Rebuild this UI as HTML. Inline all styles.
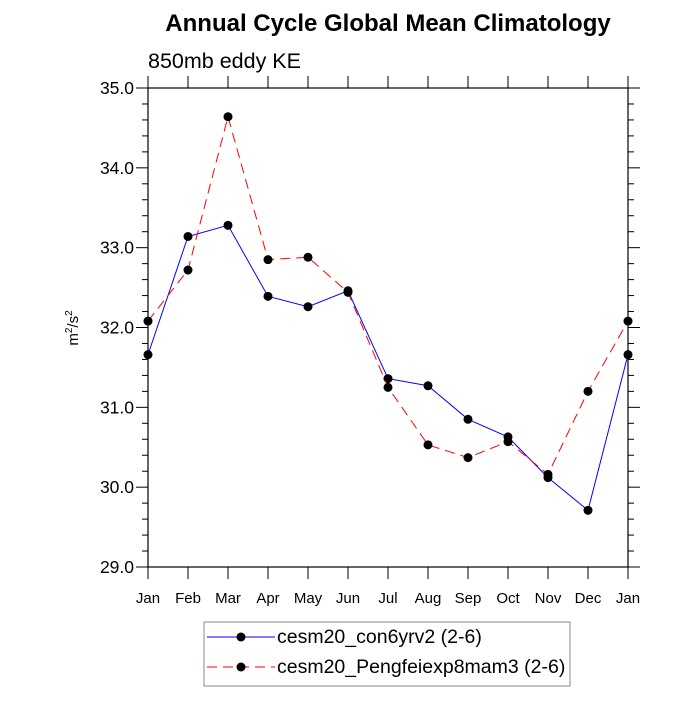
<!DOCTYPE html>
<html><head><meta charset="utf-8"><style>
body{margin:0;background:#fff;font-family:"Liberation Sans",sans-serif}
</style></head><body>
<svg id="chart" width="700" height="700" xmlns="http://www.w3.org/2000/svg" font-family="Liberation Sans, sans-serif">
<text x="388" y="31" font-size="24" font-weight="bold" text-anchor="middle">Annual Cycle Global Mean Climatology</text>
<text x="148" y="68" font-size="21.5">850mb eddy KE</text>
<g id="axes"></g>
<g id="series"></g>
<g transform="translate(78,328) rotate(-90)"><text font-size="15" text-anchor="middle">m<tspan dy="-6" font-size="10">2</tspan><tspan dy="6">/s</tspan><tspan dy="-6" font-size="10">2</tspan></text></g>
<g>
<rect x="204" y="622" width="366" height="64" fill="#fff" stroke="#888" stroke-width="1"/>
<g>
<line x1="207" y1="637" x2="275" y2="637" stroke="#00f" stroke-width="1"/>
<circle cx="241" cy="637" r="4.5" fill="#000"/>
<text x="277" y="643" font-size="19.5">cesm20_con6yrv2 (2-6)</text></g>
<g>
<line x1="207" y1="667" x2="275" y2="667" stroke="#f00" stroke-width="1" stroke-dasharray="10,6"/>
<circle cx="241" cy="667" r="4.5" fill="#000"/>
<text x="277" y="673" font-size="19.5">cesm20_Pengfeiexp8mam3 (2-6)</text></g>
</g>
</svg>
<script>
const months=["Jan","Feb","Mar","Apr","May","Jun","Jul","Aug","Sep","Oct","Nov","Dec","Jan"];
const blueVals=[31.66,33.14,33.28,32.39,32.26,32.46,31.36,31.27,30.85,30.63,30.12,29.71,31.66];
const redVals=[32.08,32.72,34.64,32.85,32.88,32.44,31.25,30.53,30.37,30.57,30.16,31.20,32.08];
const yTicks=[29.0,30.0,31.0,32.0,33.0,34.0,35.0];
const X0=148,X1=628,Y0=567,Y1=88,YMIN=29,YMAX=35;
const ns="http://www.w3.org/2000/svg";
function xs(i){return X0+(X1-X0)*i/(months.length-1);}
function ys(v){return Y0-(v-YMIN)/(YMAX-YMIN)*(Y0-Y1);}
const ax=document.getElementById('axes'),se=document.getElementById('series');
function mk(t,a,p){const e=document.createElementNS(ns,t);for(const k in a)e.setAttribute(k,a[k]);p.appendChild(e);return e;}
mk('rect',{x:X0,y:Y1,width:X1-X0,height:Y0-Y1,fill:'none',stroke:'#000','stroke-width':1.2},ax);
for(let v=YMIN;v<=YMAX+1e-6;v+=0.2){const y=ys(v);const maj=Math.abs(v-Math.round(v))<1e-6;const L=maj?12:6;
 mk('line',{x1:X0-L,y1:y,x2:X0,y2:y,stroke:'#000'},ax);mk('line',{x1:X1,y1:y,x2:X1+L,y2:y,stroke:'#000'},ax);}
yTicks.forEach(v=>{const t=mk('text',{x:X0-14,y:ys(v)+6,'font-size':17.5,'text-anchor':'end'},ax);t.textContent=v.toFixed(1);

});
months.forEach((m,i)=>{const x=xs(i);mk('line',{x1:x,y1:Y0,x2:x,y2:Y0+12,stroke:'#000'},ax);mk('line',{x1:x,y1:Y1-12,x2:x,y2:Y1,stroke:'#000'},ax);
const t=mk('text',{x:x,y:603,'font-size':15,'text-anchor':'middle'},ax);t.textContent=m;

});
function draw(vals,col,dash,name){
 const p=mk('polyline',{points:vals.map((v,i)=>xs(i)+','+ys(v)).join(' '),fill:'none',stroke:col,'stroke-width':1,'stroke-dasharray':dash},se);
 
 
 vals.forEach((v,i)=>{const c=mk('circle',{cx:xs(i),cy:ys(v),r:4.5,fill:'#000'},se);
 
 });
}
draw(blueVals,'#00f','none','blue-series');
draw(redVals,'#f00','10,6','red-series');
</script>
</body></html>
